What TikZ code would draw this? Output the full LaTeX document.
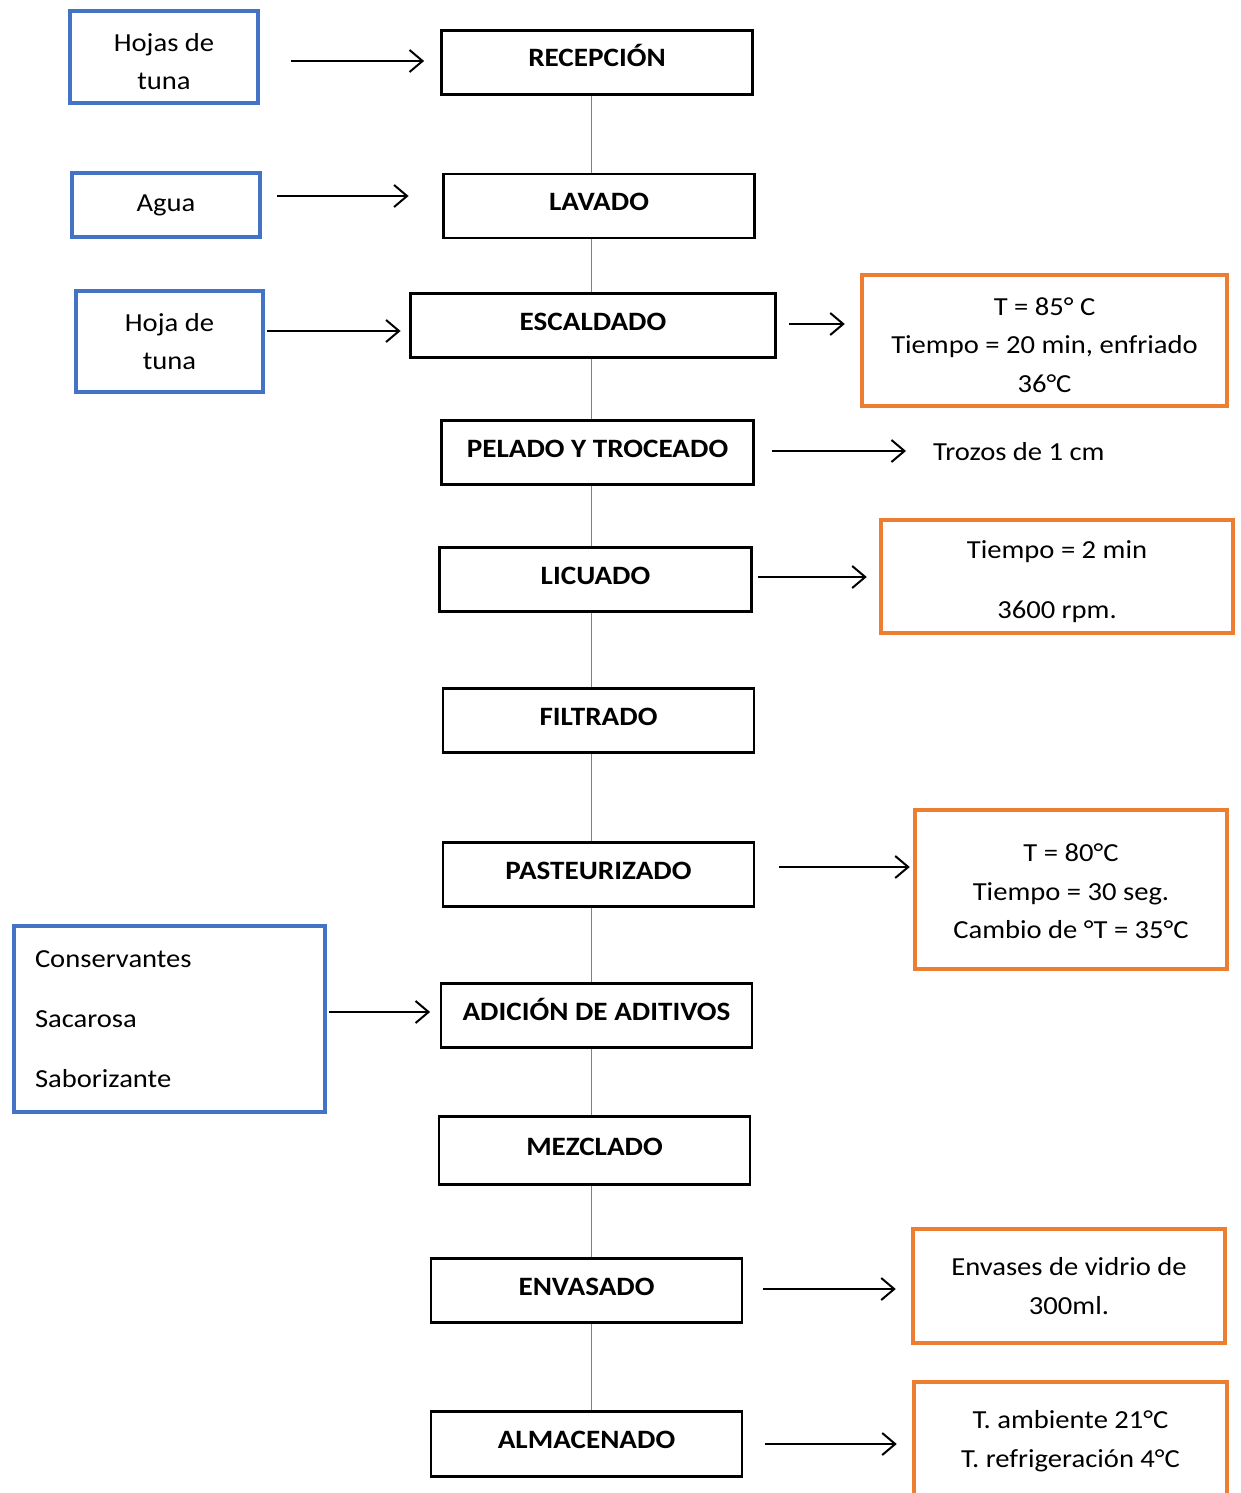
\documentclass[tikz,border=0pt]{standalone}
\usepackage{fontspec}
\setmainfont[FakeStretch=1.1]{Carlito}
\usetikzlibrary{arrows.meta}
\definecolor{bblue}{HTML}{4472C4}
\definecolor{oorange}{HTML}{ED7D31}
\newcommand{\lowerby}[1]{\rule{0pt}{\dimexpr 19pt+2\dimexpr #1\relax\relax}}
\begin{document}
\begin{tikzpicture}[x=1pt,y=-1pt,
 proc/.style={draw, line width=2.8pt, fill=white, inner sep=0pt, font=\bfseries\fontsize{26.5}{31}\selectfont, text height=17pt, text depth=8pt, minimum height=64pt, minimum width=311pt},
 inbox/.style={draw=bblue, line width=4pt, inner sep=0pt, align=center, font=\fontsize{26}{38.5}\selectfont},
 outbox/.style={draw=oorange, line width=4.5pt, inner sep=0pt, align=center, font=\fontsize{26}{38.5}\selectfont},
 plain/.style={inner sep=0pt, font=\fontsize{26}{31}\selectfont},
 arr/.style={line width=2pt, -{Straight Barb[length=13pt,width=22pt,line width=2pt]}},
 spine/.style={line width=1.2pt, draw=black!50}]
\useasboundingbox (0,0) rectangle (1240,1493);
\clip (0,0) rectangle (1240,1493);
\fill[white] (0,0) rectangle (1240,1493);
\coordinate (sp) at (591.5,0);
% process boxes
\node[proc] (rec) at (597,62.5) {RECEPCIÓN};
\node[proc] (lav) at (599,206) {LAVADO};
\node[proc, minimum width=365pt] (esc) at (593,325.5) {ESCALDADO};
\node[proc, minimum width=312pt] (pel) at (597.5,452.5) {PELADO Y TROCEADO};
\node[proc, minimum width=312pt] (lic) at (595.5,579.5) {LICUADO};
\node[proc] (fil) at (598.5,720.5) {FILTRADO};
\node[proc] (pas) at (598.5,874.5) {PASTEURIZADO};
\node[proc] (adi) at (596.5,1015.5) {ADICIÓN DE ADITIVOS};
\node[proc, minimum height=68pt] (mez) at (594.5,1150.5) {MEZCLADO};
\node[proc] (env) at (586.5,1290.5) {ENVASADO};
\node[proc, minimum height=65pt] (alm) at (586.5,1444) {ALMACENADO};
% spine
\foreach \a/\b in {rec/lav,lav/esc,esc/pel,pel/lic,lic/fil,fil/pas,pas/adi,adi/mez,mez/env,env/alm}
  \draw[spine] (\a.south -| sp) -- (\b.north -| sp);
% inputs
\node[inbox, minimum width=188pt, minimum height=92pt] (hoj1) at (164,57) {\lowerby{4pt}Hojas de\\tuna};
\node[inbox, minimum width=188pt, minimum height=64pt] (agua) at (166,205) {Agua};
\node[inbox, minimum width=187pt, minimum height=101pt] (hoj2) at (169.5,341.5) {Hoja de\\tuna};
\node[inbox, minimum width=311pt, minimum height=186pt, align=left, text width=269pt, font=\fontsize{26}{60}\selectfont] (cons) at (169.5,1019) {Conservantes\\Sacarosa\\Saborizante};
% outputs
\node[outbox, minimum width=365pt, minimum height=131pt] (o1) at (1044.5,340.5) {\lowerby{4pt}T = 85° C\\Tiempo = 20 min, enfriado\\36°C};
\node[plain, anchor=west] (troz) at (933,452) {Trozos de 1 cm};
\node[outbox, minimum width=352pt, minimum height=113pt, font=\fontsize{26}{60}\selectfont] (o2) at (1057,576.5) {\lowerby{5pt}Tiempo = 2 min\\3600 rpm.};
\node[outbox, minimum width=312pt, minimum height=159pt] (o3) at (1071,889.5) {\lowerby{1.5pt}T = 80°C\\Tiempo = 30 seg.\\Cambio de °T = 35°C};
\node[outbox, minimum width=312pt, minimum height=114pt] (o4) at (1069,1286) {Envases de vidrio de\\300ml.};
\node[outbox, minimum width=313pt, minimum height=118pt] (o5) at (1070.5,1441) {T. ambiente 21°C\\T. refrigeración 4°C};
% arrows
\draw[arr] ([xshift=31pt,yshift=-4pt]hoj1.east) -- ([xshift=-16pt,yshift=1.5pt]rec.west);
\draw[arr] ([xshift=15pt,yshift=9pt]agua.east) -- ([xshift=-33.5pt,yshift=10pt]lav.west);
\draw[arr] ([xshift=2pt,yshift=10.5pt]hoj2.east) -- ([xshift=-8.5pt,yshift=-5.5pt]esc.west);
\draw[arr] ([xshift=12.5pt,yshift=1.5pt]esc.east) -- ([xshift=-15pt,yshift=16.5pt]o1.west);
\draw[arr] ([xshift=17.5pt,yshift=1.5pt]pel.east) -- ([xshift=-27pt,yshift=1pt]troz.west);
\draw[arr] ([xshift=5.5pt,yshift=2.5pt]lic.east) -- ([xshift=-12pt,yshift=-0.5pt]o2.west);
\draw[arr] ([xshift=23.5pt,yshift=7.5pt]pas.east) -- ([xshift=-3pt,yshift=22.5pt]o3.west);
\draw[arr] ([xshift=2pt,yshift=7pt]cons.east) -- ([xshift=-9.5pt,yshift=3.5pt]adi.west);
\draw[arr] ([xshift=19.5pt,yshift=1.5pt]env.east) -- ([xshift=-15pt,yshift=-3pt]o4.west);
\draw[arr] ([xshift=21.5pt]alm.east) -- ([xshift=-15pt,yshift=-3pt]o5.west);
\end{tikzpicture}
\end{document}
